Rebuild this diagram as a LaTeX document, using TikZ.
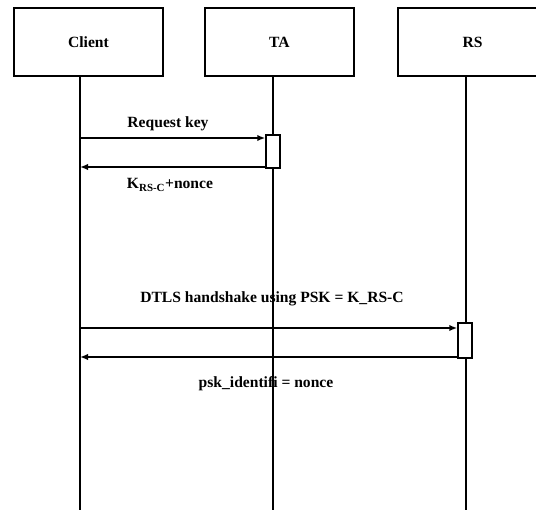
\documentclass[tikz,border=0pt]{standalone}
\usepackage{fontspec}
\setmainfont{Liberation Serif}
\usepackage{tikz}
\usetikzlibrary{positioning,arrows.meta}

\begin{document}
\begin{tikzpicture}[
x=1pt, y=-1pt,
every node/.style={
    font=\fontsize{15.6}{18}\selectfont\bfseries
},
actor/.style={
    draw,
    line width=1.6pt,
    minimum width=149pt,
    minimum height=68pt
},
lifeline/.style={line width=1.8pt},
activation/.style={
    draw,
    fill=white,
    line width=1.5pt,
    minimum width=14pt,
    inner sep=0pt
},
arrow/.style={-{Latex[length=8pt,width=6.5pt]}, line width=1.8pt}
]

\useasboundingbox (0,0) rectangle (536,510);

% participants
\node[actor] (client) at (88.5,42) {Client};
\node[actor] (ta) at (279.5,42) {TA};
\node[actor] (rs) at (472.5,42) {RS};

% lifelines
\coordinate (clientEnd) at (80,510);
\coordinate (taEnd) at (273,510);
\coordinate (rsEnd) at (466,510);
\draw[lifeline] (client.south -| clientEnd) -- (clientEnd);
\draw[lifeline] (ta.south -| taEnd) -- (taEnd);
\draw[lifeline] (rs.south -| rsEnd) -- (rsEnd);

% key request to TA
\node[activation, minimum height=33pt] (taAct) at (273,151.5) {};
\coordinate (reqTo) at (taAct.west |- 0,138);
\coordinate (keyFrom) at (taAct.west |- 0,167);
\draw[arrow] (clientEnd |- reqTo) -- (reqTo);
\node (reqLabel) at (168,124) {Request key};
\draw[arrow] (keyFrom) -- (clientEnd |- keyFrom);
\node (keyLabel) at (170,185) {K\textsubscript{RS-C}+nonce};

% DTLS handshake with RS
\node[activation, minimum height=35pt] (rsAct) at (465,340.5) {};
\coordinate (dtlsTo) at (rsAct.west |- 0,328);
\coordinate (pskFrom) at (rsAct.west |- 0,357);
\node (dtlsLabel) at (272,299) {DTLS handshake using PSK = K\_RS-C};
\draw[arrow] (clientEnd |- dtlsTo) -- (dtlsTo);
\draw[arrow] (pskFrom) -- (clientEnd |- pskFrom);
\node (pskLabel) at (266,384) {psk\_identifi = nonce};

\end{tikzpicture}
\end{document}
